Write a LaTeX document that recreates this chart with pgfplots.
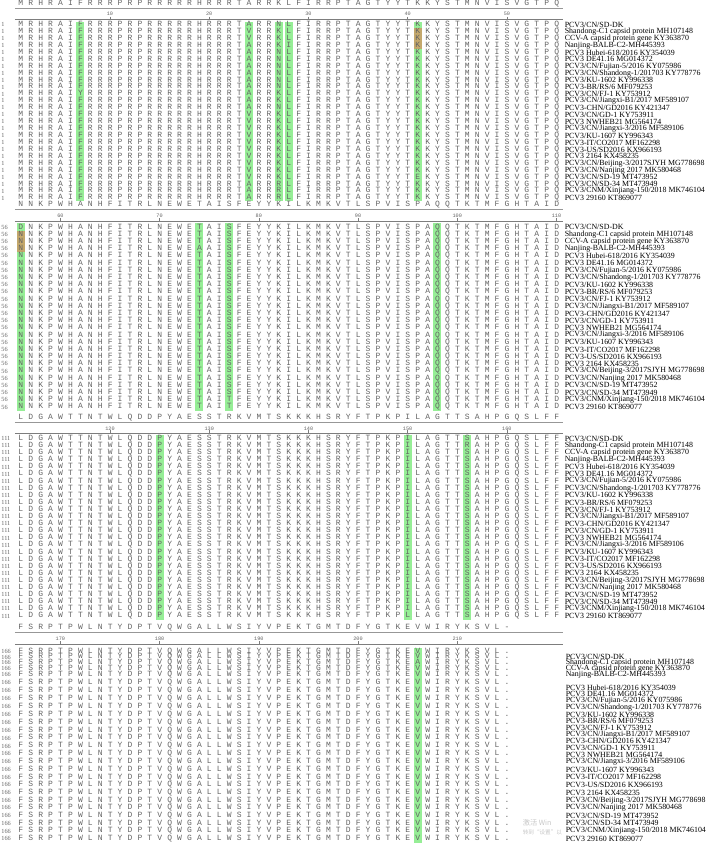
\documentclass[border=0pt]{standalone}
\usepackage{pgfplots}
\pgfplotsset{compat=1.18}
\usepackage{pgfplotstable}
\usepackage{fontspec}
\setmainfont{Liberation Serif}
\newfontfamily\seqfont{Liberation Mono}
\newfontfamily\cjk{Noto Sans CJK SC}
\definecolor{hl}{RGB}{150,238,150}
\definecolor{hlb}{RGB}{196,168,108}
\definecolor{seqgray}{RGB}{100,100,100}
\definecolor{rulegray}{RGB}{125,125,125}

\def\spreadseqi#1{\ifx\relax#1\else\makebox[9.93bp]{#1}\expandafter\spreadseqi\fi}
\newcommand\spreadseq[1]{\edef\seqtmp{#1}\expandafter\spreadseqi\seqtmp\relax}

\pgfplotsset{
  seqrow/.style={draw=none, mark=none, point meta=explicit symbolic,
    nodes near coords={\spreadseq{\pgfplotspointmeta}},
    nodes near coords align=horizontal,
    every node near coord/.append style={anchor=west, inner sep=0pt,
      font=\seqfont\fontsize{8bp}{9bp}\selectfont, text=seqgray}},
  namerow/.style={draw=none, mark=none, point meta=explicit symbolic,
    nodes near coords={\pgfplotspointmeta},
    nodes near coords align=horizontal,
    every node near coord/.append style={anchor=west, inner sep=0pt,
      font=\fontsize{7.9bp}{9bp}\selectfont, text=black}},
  numrow/.style={draw=none, mark=none,
    nodes near coords align=horizontal,
    every node near coord/.append style={anchor=west, inner sep=0pt,
      font=\fontsize{6.3bp}{7bp}\selectfont, text=seqgray}},
  ticklab/.style={draw=none, mark=none, point meta=explicit symbolic,
    nodes near coords={\pgfplotspointmeta},
    every node near coord/.append style={anchor=center, inner sep=0pt,
      font=\seqfont\fontsize{5.2bp}{6bp}\selectfont, text=seqgray}},
  tickmk/.style={only marks, mark=|, mark size=1.6, mark options={draw=rulegray, line width=0.5bp}},
  rulethin/.style={draw=rulegray!80, line width=0.5bp},
  rulethick/.style={draw=rulegray, line width=0.9bp},
  hlbox/.style={fill=hl, draw=none},
  hlbbox/.style={fill=hlb, draw=none},
}

\pgfplotstableread[col sep=comma]{
yA,yB,yC,yD,name
24.00,226.7,438.3,656.6,PCV3/CN/SD-DK
30.94,233.9,445.4,662.6,Shandong-C1 capsid protein MH107148
37.88,241.1,452.5,668.6,CCV-A capsid protein gene KY363870
44.82,248.3,459.6,674.6,Nanjing-BALB-C2-MH445393
51.76,255.5,466.7,687.6,PCV3 Hubei-618/2016 KY354039
58.70,262.7,473.8,694.3,PCV3 DE41.16 MG014372
65.64,269.9,480.9,701.0,PCV3/CN/Fujian-5/2016 KY075986
72.58,277.1,488.0,707.7,PCV3/CN/Shandong-1/201703 KY778776
79.52,284.3,495.1,714.4,PCV3/KU-1602 KY996338
86.46,291.5,502.2,721.1,PCV3-BR/RS/6 MF079253
93.40,298.7,509.3,727.8,PCV3/CN/FJ-1 KY753912
100.34,305.9,516.4,734.5,PCV3/CN/Jiangxi-B1/2017 MF589107
107.28,313.1,523.5,741.3,PCV3-CHN/GD2016 KY421347
114.22,320.3,530.6,748.1,PCV3/CN/GD-1 KY753911
121.16,327.5,537.7,754.9,PCV3 NWHEB21 MG564174
128.10,334.7,544.8,761.7,PCV3/CN/Jiangxi-3/2016 MF589106
135.04,341.9,551.9,769.4,PCV3/KU-1607 KY996343
141.98,349.1,559.0,777.1,PCV3-IT/CO2017 MF162298
148.92,356.3,566.1,784.8,PCV3-US/SD2016 KX966193
155.86,363.5,573.2,792.5,PCV3 2164 KX458235
162.80,370.7,580.3,800.2,PCV3/CN/Beijing-3/2017SJYH MG778698
169.74,377.9,587.4,807.9,PCV3/CN/Nanjing 2017 MK580468
176.68,385.1,594.5,815.6,PCV3/CN/SD-19 MT473952
183.62,392.3,601.6,823.3,PCV3/CN/SD-34 MT473949
190.56,399.5,608.7,831.0,PCV3/CNM/Xinjiang-150/2018 MK746104
197.50,406.7,615.8,838.7,PCV3 29160 KT869077
}\names

\pgfplotstableread[col sep=comma]{
y,seq
24.00,MRHRAIFRRRPRPRRRRRHRRRTARRNLFIRRPTAGTYYTKKYSTMNVISVGTPQ
30.94,MRHRAIFRRRPRPRRRRRHRRRTVRRKLFIRRPTAGTYYTKKYSTMNVISVGTPQ
37.88,MRHRAIFRRRPRPRRRRRHRRRTVRRKLFIRRPTAGTYYTKKYSTMNVISVGTPQ
44.82,MRHRAIFRRRPRPRRRRRHRRRTARRKIFIRRPTAGTYYTKKYSTMNVISVGTPQ
51.76,MRHRAIFRRRPRPRRRRRHRRRTARRNLFIRRPTAGTYYTKKYSTMNVISVGTPQ
58.70,MRHRAIFRRRPRPRRRRRHRRRTARRNLFIRRPTAGTYYTKKYSTMNVISVGTPQ
65.64,MRHRAIFRRRPRPRRRRRHRRRTARRNLFIRRPTAGTYYTKKYSTMNVISVGTPQ
72.58,MRHRAIFRRRPRPRRRRRHRRRTARRNLFIRRPTAGTYYTKKYSTMNVISVGTPQ
79.52,MRHRAIFRRRPRPRRRRRHRRRTARRNLFIRRPTAGTYYTKKYSTMNVISVGTPQ
86.46,MRHRAIFRRRPRPRRRRRHRRRTARRNLFIRRPTAGTYYTKKYSTMNVISVGTPQ
93.40,MRHRAIYRRRPRPRRRRRHRRRTARRKLFIRRPTAGTYYTKKYSTMNVISVGTPQ
100.34,MRHRAIFRRRPRPRRRRRHRRRTARRKLFIRRPTAGTYYTKKYSTMNVISVGTPQ
107.28,MRHRAIFRRRPRPRRRRRHRRRTARRNLFIRRPTAGTYYTKKYSTMNVISVGTPQ
114.22,MRHRAIFRRRPRPRRRRRHRRRTVRRKLFIRRPTAGTYYTKKYSTMNVISVGTPQ
121.16,MRHRAIFRRRPRPRRRRRHRRRTVRRKLFIRRPTAGTYYTKKYSTMNVISVGTPQ
128.10,MRHRAIFRRRPRPRRRRRHRRRTVRRKLFIRRPTAGTYYTKKYSTMNVISVGTPQ
135.04,MRHRAIFRRRPRPRRRRRHRRRTVRRKLFIRRPTAGTYYTKKYSTMNVISVGTPQ
141.98,MRHRAIFRRRPRPRRRRRHRRRTVRRKLFIRRPTAGTYYTKKYSTMNVISVGTPQ
148.92,MRHRAIFRRRPRPRRRRRHRRRTVRRKLFIRRPTAGTYYTKKYSTMNVISVGTPQ
155.86,MRHRAIFRRRPRPRRRRRHRRRTVRRKLFIRRPTAGTYYTKKYSTMNVISVGTPQ
162.80,MRHRAIFRRRPRPRRRRRHRRRTVRRKLFIRRPTAGTYYTKKYSTMNVISVGTPQ
169.74,MRHRAIFRRRPRPRRRRRHRRRTVRRKLFIRRPTAGTYYTKKYSTMNVISVGTPQ
176.68,MRHRAIFRRRPRPRRRRRHRRRTVRRKLFIRRPTAGTYYTEKYSTMNVISVGTPQ
183.62,MRHRAIFRRRPRPRRRRRHRRRTARRRLFIRRPTAGTYYTKKYSTMNVISVGTPQ
190.56,MRHRAIFRRRPRPRRRRRHRRRTARRRLFIRRPTAGTYYTKKYSTMNVISVGTPQ
197.50,MRHRAIFRRRPRPRRRRRHRRRTARRRLFIRRPTAGTYYTKKYSTMNVISVGTPQ
}\seqA

\pgfplotstableread[col sep=comma]{
y,seq
226.7,DNKPWHANHFITRLNEWETAISFEYYKILKMKVTLSPVISPAQQTKTMFGHTAID
233.9,NNKPWHANHFITRLNEWETAISFEYYKILKMKVTLSPVISPAQQTKTMFGHTAID
241.1,NNKPWHANHFITRLNEWETAISFEYYKILKMKVTLSPVISPAQQTKTMFGHTAID
248.3,NNKPWHANHFITRLNEWEAAISFEYYKILKMKVTLSPVISPAQQTKTMFGHTAID
255.5,NNKPWHANHFITRLNEWETAISFEYYKILKMKVTLSPVISPAQQTKTMFGHTAID
262.7,NNKPWHANHFITRLNEWETAISFEYYKILKMKVTLSPVISPAQQTKTMFGHTAID
269.9,NNKPWHANHFITRLNEWETAISFEYYKILKMKVTLSPVISPAQQTKTMFGHTAID
277.1,NNKPWHANHFITRLNEWETAISFEYYKILKMKVTLSPVISPAQQTKTMFGHTAID
284.3,NNKPWHANHFITRLNEWETAISFEYYKILKMKVTLSPVISPAQQTKTMFGHTAID
291.5,NNKPWHANHFITRLNEWETAISFEYYKILKMKVTLSPVISPAQQTKTMFGHTAID
298.7,NNKPWHANHFITRLNEWETAISFEYYKILKMKVTLSPVISPAQQTKTMFGHTAID
305.9,NNKPWHANHFITRLNEWETAISFEYYKILKMKVTLSPVISPAQQTKTMFGHTAID
313.1,NNKPWHANHFITRLNEWETAISFEYYKILKMKVTLSPVISPAQQTKTMFGHTAID
320.3,NNKPWHANHFITRLNEWETAISFEYYKILKMKVTLSPVISPAQQTKTMFGHTAID
327.5,NNKPWHANHFITRLNEWETAISFEYYKILKMKVTLSPVISPAQQTKTMFGHTAID
334.7,NNKPWHANHFITRLNEWETAISFEYYKILKMKVTLSPVISPAQQTKTMFGHTAID
341.9,NNKPWHANHFITRLNEWETAISFEYYKILKMKVTLSPVISPAQQTKTMFGHTAID
349.1,NNKPWHANHFITRLNEWETAISFEYYKILKMKVTLSPVISPAQQTKTMFGHTAID
356.3,NNKPWHANHFITRLNEWETAISFEYYKILKMKVTLSPVISPAQQTKTMFGHTAID
363.5,NNKPWHANHFITRLNEWETAISFEYYKILKMKVTLSPVISPAQQTKTMFGHTAID
370.7,NNKPWHANHFITRLNEWETAISFEYYKILKMKVTLSPVISPAQQTKTMFGHTAID
377.9,NNKPWHANHFITRLNEWETAISFEYYKILKMKVTLSPVISPAQQTKTMFGHTAID
385.1,NNKPWHANHFITRLNEWETAISFEYYKILKMKVTLSPVISPAQQTKTMFGHTAID
392.3,NNKPWHANHFITRLNEWETAISFEYYKILKMKVTLSPVISPAQQTKTMFGHTAID
399.5,NNKPWHANHFITRLNEWETAITFEYYKILKMKVTLSPVISPAQQTKTMFGHTAID
406.7,NNKPWHANHFITRLNEWETAITFEYYKILKMKVTLSPVISPAQQTKTMFGHTAID
}\seqB

\pgfplotstableread[col sep=comma]{
y,seq
438.3,LDGAWTTNTWLQDDPYAESSTRKVMTSKKKHSRYFTPKPILAGTTSAHPGQSLFF
445.4,LDGAWTTNTWLQDDPYAESSTRKVMTSKKKHSRYFTPKPILAGTTRAHPGQSLFF
452.5,LDGAWTTNTWLQDDPYAESSTRKVMTSKKKHSRYFTPKPILAGTTSAHPGQSLFF
459.6,LDGAWTTNTWLQDDPYAESSTRKVMTSKKKHSRYFTPKPILAGTTSAHPGQSLFF
466.7,LDGAWTTNTWLQDDPYAESSTRKVMTSKKKHSRYFTPKPILAGTTSAHPGQSLFF
473.8,LDGAWTTNTWLQDDPYAESSTRKVMTSKKKHSRYFTPKPILAGTTSAHPGQSLFF
480.9,LDGAWTTNTWLQDDPYAESSTRKVMTSKKKHSRYFTPKPILAGTTSAHPGQSLFF
488.0,LDGAWTTNTWLQDDPYAESSTRKVMTSKKKHSRYFTPKPILAGTTSAHPGQSLFF
495.1,LDGAWTTNTWLQDDPYAESSTRKVMTSKKKHSRYFTPKPILAGTTSAHPGQSLFF
502.2,LDGAWTTNTWLQDDPYAESSTRKVMTSKKKHSRYFTPKPILAGTTSAHPGQSLFF
509.3,LDGAWTTNTWLQDDPYAESSTRKVMTSKKKHSRYFTPKPILAGTTSAHPGQSLFF
516.4,LDGAWTTNTWLQDDPYAESSTRKVMTSKKKHSRYFTPKPILAGTTSAHPGQSLFF
523.5,LDGAWTTNTWLQDDPYAESSTRKVMTSKKKHSRYFTPKPILAGTTSAHPGQSLFF
530.6,LDGAWTTNTWLQDDPYAESSTRKVMTSKKKHSRYFTPKPILAGTTSAHPGQSLFF
537.7,LDGAWTTNTWLQDDPYAESSTRKVMTSKKKHSRYFTPKPILAGTTSAHPGQSLFF
544.8,LDGAWTTNTWLQDDPYAESSTRKVMTSKKKHSRYFTPKPILAGTTSAHPGQSLFF
551.9,LDGAWTTNTWLQDDPYAESSTRKVMTSKKKHSRYFTPKPILAGTTSAHPGQSLFF
559.0,LDGAWTTNTWLQDDPYAESSTRKVMTSKKKHSRYFTPKPILAGTTSAHPGQSLFF
566.1,LDGAWTTNTWLQDDPYAESSTRKVMTSKKKHSRYFTPKPILAGTTSAHPGQSLFF
573.2,LDGAWTTNTWLQDDPYAESSTRKVMTSKKKHSRYFTPKPILAGTTSAHPGQSLFF
580.3,LDGAWTTNTWLQDDPYAESSTRKVMTSKKKHSRYFTPKPILAGTTSAHPGQSLFF
587.4,LDGAWTTNTWLQDDPYAESSTRKVMTSKKKHSRYFTPKPILAGTTSAHPGQSLFF
594.5,LDGAWTTNTWLQDDPYAESSTRKVMTSKKKHSRYFTPKPILAGTTSAHPGQSLFF
601.6,LDGAWTTNTWLQDDPYAESSTRKVMTSKKKHSRYFTPKPILAGTTSAHPGQSLFF
608.7,LDGAWTTNTWLQDDPYAESSTRKVMTSKKKHSRYFTPKPILAGTTSAHPGQSLFF
615.8,LDGAWTTNTWLQDDPYAESSTRKVMTSKKKHSRYFTPKPLLAGTTSAHPGQSLFF
}\seqC

\pgfplotstableread[col sep=comma]{
y,seq
651.0,FSRPTPWLNTYDPTVQWGALLWSIYVPEKTGMTDFYGTKEVWIRYKSVL.
656.8,FSRPTPWLNTYDPTVQWGALLWSIYVPEKTGMTDFYGTKEVWIRYKSVL.
662.7,FSRPTPWLNTYDPTVQWGALLWSIYVPEKTGMTDFYGTKEAWIRYKSVL.
668.5,FSRPTPWLNTYDPTVQWGALLWSIYVPEKTGMTDFYGTKEVWIRYKSVL.
674.3,FSRPTPWLNTYDPTVQWGALLWSIYVPEKTGMTDFYGTKEVWIRYKSVL.
682.3,FSRPTPWLNTYDPTVQWGALLWSIYVPEKTGMTDFYGTKEVWIRYKSVL.
690.2,FSRPTPWLNTYDPTVQWGALLWSIYVPEKTGMTDFYGTKEVWIRYKSVL.
698.2,FSRPTPWLNTYDPTVQWGALLWSIYVPEKTGMTDFYGTKEVWIRYKSVL.
706.1,FSRPTPWLNTYDPTVQWGALLWSIYVPEKTGMTDFYGTKEVWIRYKSVL.
714.1,FSRPTPWLNTYDPTVQWGALLWSIYVPEKTGMTDFYGTKEVWIRYKSVL.
722.0,FSRPTPWLNTYDPTVQWGALLWSIYVPEKTGMTDFYGTKEVWIRYKSVL.
730.0,FSRPTPWLNTYDPTVQWGALLWSIYVPEKTGMTDFYGTKEVWIRYKSVL.
737.9,FSRPTPWLNTYDPTVQWGALLWSIYVPEKTGMTDFYGTKEVWIRYKSVL.
745.9,FSRPTPWLNTYDPTVQWGALLWSIYVPEKTGMTDFYGTKEVWIRYKSVL.
753.8,FSRPTPWLNTYDPTVQWGALLWSIYVPEKTGMTDFYGTKEVWIRYKSVL.
761.7,FSRPTPWLNTYDPTVQWGALLWSIYVPEKTGMTDFYGTKEVWIRYKSVL.
769.4,FSRPTPWLNTYDPTVQWGALLWSIYVPEKTGMTDFYGTKEVWIRYKSVL.
777.1,FSRPTPWLNTYDPTVQWGALLWSIYVPEKTGMTDFYGTKEVWIRYKSVL.
784.8,FSRPTPWLNTYDPTVQWGALLWSIYVPEKTGMTDFYGTKEVWIRYKSVL.
792.5,FSRPTPWLNTYDPTVQWGALLWSIYVPEKTGMTDFYGTKEVWIRYKSVL.
800.2,FSRPTPWLNTYDPTVQWGALLWSIYVPEKTGMTDFYGTKEVWIRYKSVL.
807.9,FSRPTPWLNTYDPTVQWGALLWSIYVPEKTGMTDFYGTKEVWIRYKSVL.
815.6,FSRPTPWLNTYDPTVQWGALLWSIYVPEKTGMTDFYGTKEVWIRYKSVL.
823.3,FSRPTPWLNTYDPTVQWGALLWSIYVPEKTGMTDFYGTKEVWIRYKSVL.
831.0,FSRPTPWLNTYDPTVQWGALLWSIYVPEKTGMTDFYGTKEVWIRYKSVL.
838.7,FSRPTPWLNTYDPTVQWGALLWSIYVPEKTGMTDFYGTKEVWIRYKSVL.
}\seqD

\begin{document}
\begin{tikzpicture}
\begin{axis}[
  width=709bp, height=843bp, scale only axis,
  xmin=0, xmax=709, ymin=0, ymax=843, y dir=reverse,
  hide axis, clip=false,
]
% page frame (invisible)
\addplot[draw=none, mark=none] coordinates {(0,0) (709,843)};

% ---- highlighted columns ----
% block 1: columns 7, 24, 27, 28, 41
\addplot[hlbox] coordinates {(76.3,21) (84.3,21) (84.3,200.5) (76.3,200.5)} --cycle;
\addplot[hlbox] coordinates {(245.1,21) (253.1,21) (253.1,200.5) (245.1,200.5)} --cycle;
\addplot[hlbox] coordinates {(274.9,21) (282.9,21) (282.9,200.5) (274.9,200.5)} --cycle;
\addplot[hlbox] coordinates {(284.8,21) (292.8,21) (292.8,200.5) (284.8,200.5)} --cycle;
\addplot[hlbox] coordinates {(413.9,21) (421.9,21) (421.9,200.5) (413.9,200.5)} --cycle;
\addplot[hlbbox] coordinates {(413.9,27.6) (421.9,27.6) (421.9,48.1) (413.9,48.1)} --cycle;
% block 2: columns 1, 19, 22, 43
\addplot[hlbox] coordinates {(16.7,223) (24.7,223) (24.7,410.3) (16.7,410.3)} --cycle;
\addplot[hlbbox] coordinates {(16.7,230.4) (24.7,230.4) (24.7,251.8) (16.7,251.8)} --cycle;
\addplot[hlbox] coordinates {(195.4,223) (203.4,223) (203.4,410.3) (195.4,410.3)} --cycle;
\addplot[hlbox] coordinates {(225.2,223) (233.2,223) (233.2,410.3) (225.2,410.3)} --cycle;
\addplot[hlbox] coordinates {(433.8,223) (441.8,223) (441.8,410.3) (433.8,410.3)} --cycle;
% block 3: columns 15, 40, 46
\addplot[hlbox] coordinates {(155.7,435) (163.7,435) (163.7,619.5) (155.7,619.5)} --cycle;
\addplot[hlbox] coordinates {(404.0,435) (412.0,435) (412.0,619.5) (404.0,619.5)} --cycle;
\addplot[hlbox] coordinates {(463.6,435) (471.6,435) (471.6,619.5) (463.6,619.5)} --cycle;
% block 4: column 41
\addplot[hlbox] coordinates {(413.9,647.5) (421.9,647.5) (421.9,843) (413.9,843)} --cycle;

% ---- rulers ----
% block 1
\addplot[seqrow] coordinates {(15.735,2.8) [MRHRAIFRRRPRPRRRRRHRRRTARRKLFIRRPTAGTYYTKKYSTMNVISVGTPQ]};
\addplot[rulethin] coordinates {(15,7.5) (563,7.5)};
\addplot[rulethick] coordinates {(15,19) (563,19)};
\addplot[tickmk] coordinates {(110.07,17.6) (209.37,17.6) (308.67,17.6) (407.97,17.6) (507.27,17.6)};
\addplot[ticklab] coordinates {(110.07,13.3)[10] (209.37,13.3)[20] (308.67,13.3)[30] (407.97,13.3)[40] (507.27,13.3)[50]};
% block 2
\addplot[seqrow] coordinates {(15.735,204) [NNKPWHANHFITRLNEWETAISFEYYKILKMKVTLSPVISPAQQTKTMFGHTAID]};
\addplot[rulethin] coordinates {(15,209) (563,209)};
\addplot[rulethick] coordinates {(15,220.7) (563,220.7)};
\addplot[tickmk] coordinates {(60.42,219.3) (159.72,219.3) (259.02,219.3) (358.32,219.3) (457.62,219.3) (556.92,219.3)};
\addplot[ticklab] coordinates {(60.42,215.5)[60] (159.72,215.5)[70] (259.02,215.5)[80] (358.32,215.5)[90] (457.62,215.5)[100] (556.92,215.5)[110]};
% block 3
\addplot[seqrow] coordinates {(15.735,417) [LDGAWTTNTWLQDDPYAESSTRKVMTSKKKHSRYFTPKPILAGTTSAHPGQSLFF]};
\addplot[rulethin] coordinates {(15,422) (563,422)};
\addplot[rulethick] coordinates {(15,433) (563,433)};
\addplot[tickmk] coordinates {(110.07,431.6) (209.37,431.6) (308.67,431.6) (407.97,431.6) (507.27,431.6)};
\addplot[ticklab] coordinates {(110.07,428)[120] (209.37,428)[130] (308.67,428)[140] (407.97,428)[150] (507.27,428)[160]};
% block 4
\addplot[seqrow] coordinates {(15.735,627) [FSRPTPWLNTYDPTVQWGALLWSIYVPEKTGMTDFYGTKEVWIRYKSVL-]};
\addplot[rulethin] coordinates {(15,632.5) (563,632.5)};
\addplot[rulethick] coordinates {(15,644) (563,644)};
\addplot[tickmk] coordinates {(60.42,642.6) (159.72,642.6) (259.02,642.6) (358.32,642.6) (457.62,642.6)};
\addplot[ticklab] coordinates {(60.42,638.8)[170] (159.72,638.8)[180] (259.02,638.8)[190] (358.32,638.8)[200] (457.62,638.8)[210]};

% ---- sequences ----
\addplot[seqrow] table[x expr=15.735, y=y, meta=seq] {\seqA};
\addplot[seqrow] table[x expr=15.735, y=y, meta=seq] {\seqB};
\addplot[seqrow] table[x expr=15.735, y=y, meta=seq] {\seqC};
\addplot[seqrow] table[x expr=15.735, y=y, meta=seq] {\seqD};

% ---- start positions ----
\addplot[numrow, nodes near coords={1}] table[x expr=1.2, y=y] {\seqA};
\addplot[numrow, nodes near coords={56}] table[x expr=1.2, y=y] {\seqB};
\addplot[numrow, nodes near coords={111}] table[x expr=1.2, y=y] {\seqC};
\addplot[numrow, nodes near coords={166}] table[x expr=1.2, y=y] {\seqD};

% ---- screen watermark ----
\node[anchor=west, inner sep=0pt, text=black!22, font=\cjk\fontsize{7.2bp}{8bp}\selectfont] at (axis cs:523,822.5) {激活 Win};
\node[anchor=west, inner sep=0pt, text=black!22, font=\cjk\fontsize{5.6bp}{6bp}\selectfont] at (axis cs:523,832) {转到“设置”以};

% ---- names ----
\addplot[namerow] table[x expr=565, y=yA, meta=name] {\names};
\addplot[namerow] table[x expr=565, y=yB, meta=name] {\names};
\addplot[namerow] table[x expr=565, y=yC, meta=name] {\names};
\addplot[namerow] table[x expr=566, y=yD, meta=name] {\names};
\end{axis}
\end{tikzpicture}
\end{document}
